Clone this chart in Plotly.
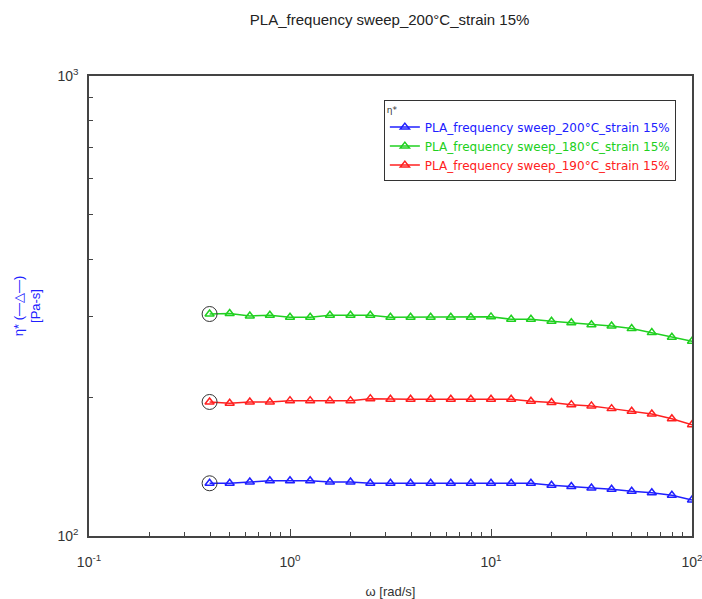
import numpy as np
import plotly.graph_objects as go

# Angular frequency [rad/s], 10 points per decade from 0.398 to 100
omega = [0.398, 0.501, 0.631, 0.794, 1.0, 1.26, 1.58, 2.0, 2.51, 3.16,
         3.98, 5.01, 6.31, 7.94, 10.0, 12.6, 15.8, 20.0, 25.1, 31.6,
         39.8, 50.1, 63.1, 79.4, 100.0]

# Complex viscosity eta* [Pa-s]
eta_200 = [130.2, 130.2, 131.0, 131.9, 131.9, 131.9, 131.0, 131.0, 130.2, 130.2,
           130.2, 130.2, 130.2, 130.2, 130.2, 130.2, 130.2, 128.9, 128.1, 127.2,
           126.4, 125.1, 124.2, 122.6, 119.7]
eta_180 = [303.8, 304.5, 300.8, 302.0, 298.8, 298.8, 302.0, 302.0, 302.0, 298.8,
           298.8, 298.8, 298.8, 298.8, 299.5, 295.9, 295.9, 292.9, 290.9, 288.0,
           286.2, 282.4, 276.8, 270.4, 265.1]
eta_190 = [195.6, 194.3, 195.6, 195.6, 196.9, 196.9, 196.9, 196.9, 198.9, 198.3,
           198.3, 198.3, 198.3, 198.3, 198.3, 198.3, 196.3, 195.0, 193.0, 191.8,
           189.2, 186.7, 184.2, 179.9, 174.6]

series = [
    ("PLA_frequency sweep_200°C_strain 15%", eta_200, "#2020ff"),
    ("PLA_frequency sweep_180°C_strain 15%", eta_180, "#20d020"),
    ("PLA_frequency sweep_190°C_strain 15%", eta_190, "#ff2020"),
]

x_tickvals = [0.1, 1, 10, 100]
x_ticktext = ["10<sup>-1</sup>", "10<sup>0</sup>", "10<sup>1</sup>", "10<sup>2</sup>"]
y_tickvals = [100, 1000]
y_ticktext = ["10<sup>2</sup>", "10<sup>3</sup>"]

fig = go.Figure()

for name, vals, color in series:
    fig.add_trace(go.Scatter(
        x=omega, y=vals, mode="lines+markers",
        name=f'<span style="color:{color}">{name}</span>',
        line=dict(color=color, width=1.5),
        marker=dict(symbol="triangle-up-open", size=8, color=color,
                    line=dict(width=1.5, color=color)),
    ))

# Highlight ring on the first measured point of each sweep
fig.add_trace(go.Scatter(
    x=[omega[0]] * 3, y=[s[1][0] for s in series], mode="markers",
    marker=dict(symbol="circle-open", size=15, color="#333333",
                line=dict(width=1, color="#333333")),
    showlegend=False, hoverinfo="skip",
))

minor_x = [m * d for d in (0.1, 1, 10) for m in range(2, 10)]
minor_y = [m * 100 for m in range(2, 10)]

axis_common = dict(
    showgrid=False, zeroline=False, showline=True, mirror=True,
    linecolor="#444444", linewidth=1.5, automargin=False,
    ticks="inside", ticklen=7, tickwidth=1, tickcolor="#444444",
    tickfont=dict(size=14, color="#333333"),
    ticklabeloverflow="allow",
)

fig.update_xaxes(
    type="log", range=[-1, 2], tickmode="array",
    tickvals=x_tickvals, ticktext=x_ticktext,
    minor=dict(ticks="inside", ticklen=4, tickcolor="#444444",
               tickmode="array", tickvals=minor_x, showgrid=False),
    title=dict(text="ω [rad/s]", font=dict(size=13, color="#333333"), standoff=20),
    ticklabelstandoff=12,
    **axis_common,
)
fig.update_yaxes(
    type="log", range=[2, 3], tickmode="array",
    tickvals=y_tickvals, ticktext=y_ticktext,
    minor=dict(ticks="inside", ticklen=4, tickcolor="#444444",
               tickmode="array", tickvals=minor_y, showgrid=False),
    title=dict(text="η* (—△—)<br>[Pa-s]", font=dict(size=13, color="#2020ff"),
               standoff=14),
    ticklabelstandoff=6,
    **axis_common,
)

fig.update_layout(
    width=702, height=599,
    margin=dict(l=89, r=10, t=76, b=63),
    paper_bgcolor="white", plot_bgcolor="white",
    font=dict(family="Liberation Sans, Arial, sans-serif", color="#333333"),
    title=dict(text="PLA_frequency sweep_200°C_strain 15%",
               x=0.555, xanchor="center", y=0.975, yanchor="top",
               font=dict(size=15, color="#222222")),
    legend=dict(
        x=0.489, y=0.948, xanchor="left", yanchor="top",
        bordercolor="#333333", borderwidth=1, bgcolor="white",
        font=dict(size=12, family="DejaVu Sans, Verdana, sans-serif"),
        title=dict(text="η*", font=dict(size=9, color="#333333")),
        tracegroupgap=0, itemwidth=30,
    ),
)

fig.write_html("out.html")
